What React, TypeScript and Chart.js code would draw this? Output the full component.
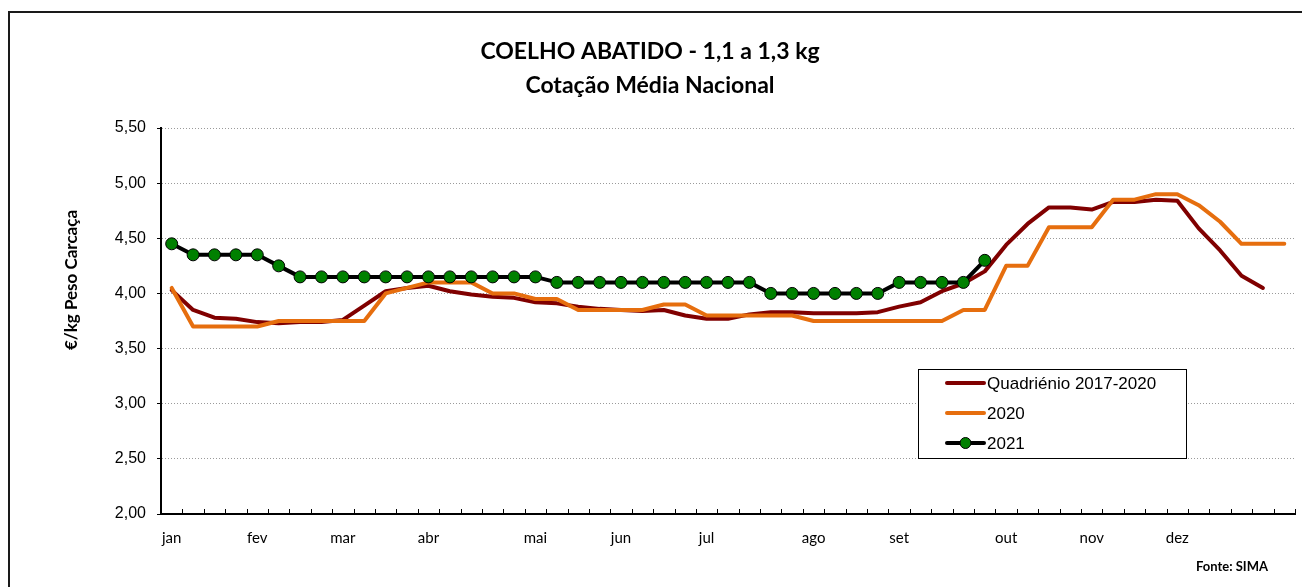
import React, { useEffect, useRef } from "react";
import { Chart, registerables } from "chart.js";

Chart.register(...registerables);

const monthLabels: string[] = [
  "jan", "", "", "", "fev", "", "", "", "mar", "", "", "", "abr", "", "", "", "", "mai", "", "", "", "jun", "", "", "", "jul", "", "", "", "", "ago", "", "", "", "set", "", "", "", "", "out", "", "", "", "nov", "", "", "", "dez", "", "", "", "", "",
];

const quadrienio: number[] = [
  4.03, 3.85, 3.78, 3.77, 3.74, 3.73, 3.74, 3.74, 3.76, 3.89,
  4.02, 4.05, 4.07, 4.02, 3.99, 3.97, 3.96, 3.92, 3.91, 3.88,
  3.86, 3.85, 3.84, 3.85, 3.80, 3.77, 3.77, 3.81, 3.83, 3.83,
  3.82, 3.82, 3.82, 3.83, 3.88, 3.92, 4.02, 4.09, 4.20, 4.44,
  4.63, 4.78, 4.78, 4.76, 4.83, 4.83, 4.85, 4.84, 4.59, 4.39,
  4.16, 4.05,
];

const ano2020: number[] = [
  4.05, 3.70, 3.70, 3.70, 3.70, 3.75, 3.75, 3.75, 3.75, 3.75,
  4.00, 4.05, 4.10, 4.10, 4.10, 4.00, 4.00, 3.95, 3.95, 3.85,
  3.85, 3.85, 3.85, 3.90, 3.90, 3.80, 3.80, 3.80, 3.80, 3.80,
  3.75, 3.75, 3.75, 3.75, 3.75, 3.75, 3.75, 3.85, 3.85, 4.25,
  4.25, 4.60, 4.60, 4.60, 4.85, 4.85, 4.90, 4.90, 4.80, 4.65,
  4.45, 4.45, 4.45,
];

const ano2021: number[] = [
  4.45, 4.35, 4.35, 4.35, 4.35, 4.25, 4.15, 4.15, 4.15, 4.15,
  4.15, 4.15, 4.15, 4.15, 4.15, 4.15, 4.15, 4.15, 4.10, 4.10,
  4.10, 4.10, 4.10, 4.10, 4.10, 4.10, 4.10, 4.10, 4.00, 4.00,
  4.00, 4.00, 4.00, 4.00, 4.10, 4.10, 4.10, 4.10, 4.30,
];

const seriesNames: string[] = ["Quadriénio 2017-2020", "2020", "2021"];
const titleLines: string[] = ["COELHO ABATIDO - 1,1 a 1,3 kg", "Cotação Média Nacional"];
const yAxisTitle = "€/kg Peso Carcaça";
const sourceText = "Fonte: SIMA";

const DARK_RED = "#800000";
const ORANGE = "#E66E0E";
const GREEN = "#008000";

const overlayPlugin = {
  id: "overlay",
  afterDraw(chart: any) {
    const ctx = chart.ctx as CanvasRenderingContext2D;
    const xs = chart.scales.x;
    const area = chart.chartArea;
    ctx.save();
    // x tick marks pointing up into the plot
    ctx.strokeStyle = "#000";
    ctx.lineWidth = 1;
    for (let i = 0; i <= monthLabels.length; i++) {
      const x = Math.round(xs.getPixelForValue(i - 0.5)) + 0.5;
      ctx.beginPath();
      ctx.moveTo(x, area.bottom);
      ctx.lineTo(x, area.bottom - 5);
      ctx.stroke();
    }
    // title
    ctx.fillStyle = "#000";
    ctx.textAlign = "center";
    ctx.textBaseline = "alphabetic";
    ctx.font = "bold 23px Lato";
    ctx.fillText(titleLines[0], 650, 59);
    ctx.fillText(titleLines[1], 650, 93);
    // y axis title
    ctx.save();
    ctx.translate(72, 280);
    ctx.rotate(-Math.PI / 2);
    ctx.font = "bold 17px Lato";
    ctx.textBaseline = "middle";
    ctx.fillText(yAxisTitle, 0, 0);
    ctx.restore();
    // source
    ctx.font = "bold 13px Lato";
    ctx.textAlign = "right";
    ctx.textBaseline = "middle";
    ctx.fillText(sourceText, 1268, 567);
    // legend
    const bx = 918, by = 369, bw = 268, bh = 89;
    ctx.fillStyle = "#fff";
    ctx.fillRect(bx, by, bw, bh);
    ctx.strokeStyle = "#000";
    ctx.lineWidth = 1;
    ctx.strokeRect(bx + 0.5, by + 0.5, bw, bh);
    const colors = [DARK_RED, ORANGE, "#000"];
    const rows = [383, 413, 443];
    ctx.font = "17px 'Liberation Sans'";
    ctx.textAlign = "left";
    ctx.textBaseline = "middle";
    for (let i = 0; i < 3; i++) {
      const y = rows[i];
      ctx.strokeStyle = colors[i];
      ctx.lineWidth = 4;
      ctx.lineCap = "round";
      ctx.beginPath();
      ctx.moveTo(947, y);
      ctx.lineTo(984, y);
      ctx.stroke();
      if (i === 2) {
        ctx.beginPath();
        ctx.arc(965.5, y, 5.5, 0, Math.PI * 2);
        ctx.fillStyle = GREEN;
        ctx.fill();
        ctx.lineWidth = 1;
        ctx.strokeStyle = "#000";
        ctx.stroke();
      }
      ctx.fillStyle = "#000";
      ctx.fillText(seriesNames[i], 987, y + 1);
    }
    ctx.restore();
  },
};

export default function App() {
  const canvasRef = useRef<HTMLCanvasElement | null>(null);

  useEffect(() => {
    if (!canvasRef.current) return;
    const chart = new Chart(canvasRef.current, {
      type: "line",
      data: {
        labels: monthLabels,
        datasets: [
          {
            label: seriesNames[0],
            data: quadrienio,
            borderColor: DARK_RED,
            backgroundColor: DARK_RED,
            borderWidth: 4,
            pointRadius: 0,
            tension: 0,
            borderJoinStyle: "round",
            borderCapStyle: "round",
            order: 3,
          },
          {
            label: seriesNames[1],
            data: ano2020,
            borderColor: ORANGE,
            backgroundColor: ORANGE,
            borderWidth: 4,
            pointRadius: 0,
            tension: 0,
            borderJoinStyle: "round",
            borderCapStyle: "round",
            order: 2,
          },
          {
            label: seriesNames[2],
            data: ano2021,
            borderColor: "#000",
            backgroundColor: GREEN,
            borderWidth: 4,
            pointRadius: 6,
            pointBorderWidth: 1,
            pointBorderColor: "#000",
            pointBackgroundColor: GREEN,
            tension: 0,
            borderJoinStyle: "round",
            order: 1,
          },
        ],
      },
      options: {
        responsive: false,
        animation: false,
        events: [],
        layout: { padding: { left: 0, top: 128, right: 2, bottom: 0 } },
        plugins: {
          legend: { display: false },
          title: { display: false },
          tooltip: { enabled: false },
        },
        scales: {
          x: {
            type: "category",
            offset: true,
            grid: { display: false, offset: true },
            border: { display: true, color: "#000", width: 2 },
            ticks: {
              autoSkip: false,
              maxRotation: 0,
              minRotation: 0,
              padding: 7,
              color: "#000",
              font: { family: "Lato", size: 15 },
            },
            afterFit: (scale: any) => {
              scale.height = 73;
            },
          },
          y: {
            min: 2,
            max: 5.5,
            grid: {
              color: "#9a9a9a",
              lineWidth: 1,
              tickColor: "#000",
              tickLength: 4,
              drawTicks: true,
            },
            border: { display: true, color: "#000", width: 2, dash: [1, 2] },
            ticks: {
              stepSize: 0.5,
              padding: 11,
              color: "#000",
              font: { family: "'Liberation Sans'", size: 16 },
              callback: (v: any) => Number(v).toFixed(2).replace(".", ","),
            },
            afterFit: (scale: any) => {
              scale.width = 161;
            },
          },
        },
      },
      plugins: [overlayPlugin],
    });
    return () => chart.destroy();
  }, []);

  return (
    <div style={{ position: "fixed", left: 0, top: 0, width: 1302, height: 587, overflow: "hidden", background: "#fff" }}>
      <canvas ref={canvasRef} width={1302} height={587} style={{ position: "absolute", left: 0, top: 0, width: 1302, height: 587 }} />
      <div
        style={{
          position: "absolute",
          left: 8,
          top: 11,
          width: 1400,
          height: 700,
          border: "2px solid #1a1a1a",
          pointerEvents: "none",
        }}
      />
    </div>
  );
}
